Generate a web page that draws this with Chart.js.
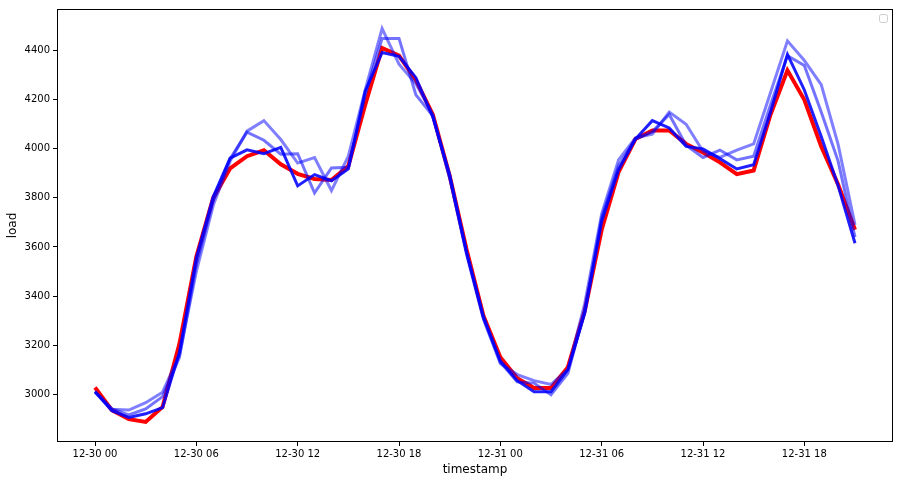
<!DOCTYPE html>
<html lang="en">
<head>
    <meta charset="UTF-8">
    <title>load vs timestamp</title>
    <script src="https://cdn.jsdelivr.net/npm/chart.js"></script>
    <style>
        html, body { margin: 0; padding: 0; background: #fff; }
        #wrap { width: 900px; height: 483px; }
    </style>
</head>
<body>
    <div id="wrap"><canvas id="loadChart"></canvas></div>
</body>
</html>

<script>
    // hours since 12-30 00
    const hours = [0, 1, 2, 3, 4, 5, 6, 7, 8, 9, 10, 11, 12, 13, 14, 15, 16, 17, 18, 19, 20, 21, 22,
        23, 24, 25, 26, 27, 28, 29, 30, 31, 32, 33, 34, 35, 36, 37, 38, 39, 40, 41, 42, 43, 44, 45];
    // actual load (red)
    const actual = [3027, 2935, 2898, 2887, 2948, 3205, 3560, 3800, 3920,
        3970, 3994, 3937, 3898, 3877, 3873, 3930,
        4180, 4411, 4380, 4280, 4140, 3890, 3590, 3320, 3150,
        3065, 3025, 3025, 3110, 3340, 3670, 3905, 4040, 4075, 4075,
        4020, 3985, 3945, 3897, 3912, 4140, 4320, 4200, 4010, 3855, 3670];
    // predictions (blue, darkest to lightest)
    const predA = [3010, 2932, 2905, 2920, 2945, 3170, 3555, 3805, 3962,
        3996, 3980, 4006, 3849, 3895, 3870, 3918,
        4235, 4393, 4377, 4290, 4130, 3895, 3580, 3315, 3135,
        3055, 3010, 3010, 3100, 3330, 3705, 3915, 4040, 4115, 4085,
        4010, 4000, 3960, 3918, 3935, 4150, 4385, 4240, 4050, 3850, 3615];
    const predB = [3012, 2940, 2915, 2940, 2990, 3150, 3530, 3790, 3960,
        4068, 4035, 3978, 3980, 3820, 3922, 3925,
        4220, 4450, 4450, 4220, 4135, 3880, 3575, 3310, 3130,
        3050, 3045, 2998, 3085, 3340, 3720, 3930, 4040, 4070, 4140,
        4015, 3965, 3995, 3955, 3970, 4180, 4380, 4340, 4150, 3950, 3640];
    const predC = [3008, 2938, 2935, 2965, 3008, 3160, 3500, 3770, 3950,
        4072, 4115, 4038, 3942, 3964, 3830, 3970,
        4240, 4490, 4345, 4265, 4140, 3885, 3570, 3305, 3125,
        3080, 3055, 3040, 3100, 3370, 3735, 3955, 4045, 4060, 4150,
        4100, 3990, 3965, 3995, 4020, 4230, 4440, 4360, 4262, 4018, 3690];
    // tick labels
    const xTickPos = [0, 6, 12, 18, 24, 30, 36, 42];
    const xTickLabels = ['12-30 00', '12-30 06', '12-30 12', '12-30 18', '12-31 00', '12-31 06', '12-31 12', '12-31 18'];
    const yTicks = [3000, 3200, 3400, 3600, 3800, 4000, 4200, 4400];

    const pts = arr => arr.map((v, i) => ({ x: hours[i], y: v }));

    // frame on all four sides + empty legend box, like matplotlib
    const framePlugin = {
        id: 'frame',
        afterDraw(chart) {
            const { ctx, chartArea: a } = chart;
            ctx.save();
            ctx.strokeStyle = '#000';
            ctx.lineWidth = 1;
            ctx.strokeRect(a.left + 0.5, a.top + 0.5, a.right - a.left - 1, a.bottom - a.top - 1);
            // empty legend
            ctx.strokeStyle = '#ccc';
            ctx.fillStyle = 'rgba(255,255,255,0.8)';
            ctx.beginPath();
            ctx.roundRect(a.right - 13.5, a.top + 5.5, 8, 8, 2);
            ctx.fill();
            ctx.stroke();
            ctx.restore();
        }
    };

    const ctx = document.getElementById('loadChart').getContext('2d');
    const loadChart = new Chart(ctx, {
        type: 'line',
        data: {
            datasets: [
                { data: pts(predA), borderColor: 'rgba(0, 0, 255, 0.88)', borderWidth: 3, order: 1 },
                { data: pts(predB), borderColor: 'rgba(0, 0, 255, 0.55)', borderWidth: 3, order: 2 },
                { data: pts(predC), borderColor: 'rgba(0, 0, 255, 0.5)', borderWidth: 3, order: 3 },
                { data: pts(actual), borderColor: 'rgb(255, 0, 0)', borderWidth: 4, order: 4 }
            ]
        },
        options: {
            responsive: true,
            maintainAspectRatio: false,
            animation: false,
            layout: { padding: { top: 7, right: 7, left: 0, bottom: 0 } },
            elements: { point: { radius: 0 }, line: { tension: 0, fill: false } },
            plugins: { legend: { display: false }, tooltip: { enabled: false } },
            scales: {
                x: {
                    type: 'linear',
                    min: -2.25,
                    max: 47.25,
                    afterBuildTicks: s => { s.ticks = xTickPos.map(v => ({ value: v })); },
                    afterFit: s => { s.height = 41; },
                    ticks: {
                        autoSkip: false,
                        maxRotation: 0,
                        padding: 2,
                        color: '#000',
                        font: { family: 'DejaVu Sans', size: 10 },
                        callback: v => xTickLabels[xTickPos.indexOf(v)]
                    },
                    grid: { drawOnChartArea: false, tickLength: 4, color: '#000' },
                    border: { display: false },
                    title: {
                        display: true,
                        text: 'timestamp',
                        color: '#000',
                        font: { family: 'DejaVu Sans', size: 12 },
                        padding: { top: 0, bottom: 6 }
                    }
                },
                y: {
                    type: 'linear',
                    min: 2805,
                    max: 4570,
                    afterBuildTicks: s => { s.ticks = yTicks.map(v => ({ value: v })); },
                    afterFit: s => { s.width = 57; },
                    ticks: {
                        padding: 3,
                        color: '#000',
                        font: { family: 'DejaVu Sans', size: 10 },
                        callback: v => String(v)
                    },
                    grid: { drawOnChartArea: false, tickLength: 4, color: '#000' },
                    border: { display: false },
                    title: {
                        display: true,
                        text: 'load',
                        color: '#000',
                        font: { family: 'DejaVu Sans', size: 12 },
                        padding: { top: 6, bottom: 0 }
                    }
                }
            }
        },
        plugins: [framePlugin]
    });
</script>
